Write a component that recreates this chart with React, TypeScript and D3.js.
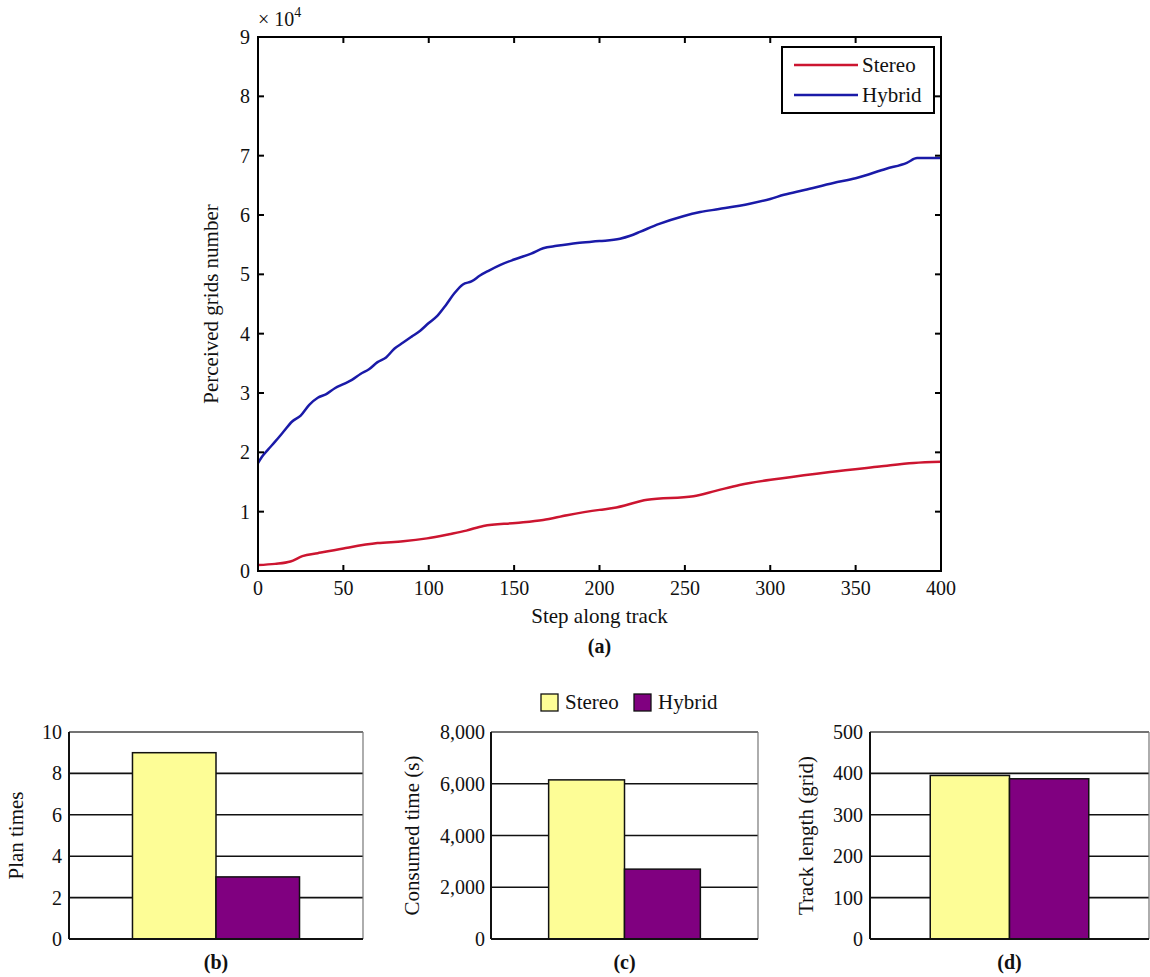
import React from 'react';
import * as d3 from 'd3';

const FONT = 'Liberation Serif';

// (a) perceived grids number (x 10^4) against step along track
const stereoCurve: [number, number][] = [
  [0, 0.1], [10, 0.12], [19, 0.16], [26, 0.25], [35, 0.3], [50, 0.38], [70, 0.47],
  [85, 0.5], [99, 0.55], [112, 0.62], [122, 0.68], [132, 0.76], [151, 0.81],
  [167, 0.86], [181, 0.94], [200, 1.03], [208, 1.06], [228, 1.2], [255, 1.26],
  [268, 1.35], [282, 1.45], [306, 1.56], [335, 1.67], [364, 1.76], [384, 1.82], [400, 1.84],
];
const hybridCurve: [number, number][] = [
  [0, 1.82], [3, 1.95], [6, 2.05], [10, 2.18], [15, 2.35], [20, 2.52], [25, 2.62],
  [30, 2.8], [35, 2.92], [40, 2.98], [45, 3.08], [50, 3.15], [55, 3.22], [60, 3.32],
  [65, 3.4], [70, 3.52], [75, 3.6], [80, 3.75], [85, 3.85], [90, 3.95], [95, 4.05],
  [100, 4.18], [105, 4.3], [110, 4.48], [115, 4.68], [120, 4.83], [125, 4.88],
  [130, 4.98], [135, 5.06], [142, 5.16], [150, 5.25], [160, 5.35], [167, 5.44],
  [175, 5.48], [187, 5.53], [200, 5.56], [212, 5.6], [218, 5.65], [224, 5.72],
  [235, 5.85], [249, 5.98], [259, 6.05], [270, 6.1], [288, 6.19], [300, 6.27],
  [308, 6.34], [320, 6.42], [337, 6.54], [350, 6.62], [368, 6.78], [380, 6.88],
  [386, 6.96], [400, 6.96],
];
const stepTicks = [0, 50, 100, 150, 200, 250, 300, 350, 400];
const gridTicks = [0, 1, 2, 3, 4, 5, 6, 7, 8, 9];

// (b)-(d) bar panels
const seriesNames = ['Stereo', 'Hybrid'];
const planTimes = [9, 3];
const consumedTime = [6150, 2700];
const trackLength = [395, 387];
const planTicks = [0, 2, 4, 6, 8, 10];
const consumedTicks = [0, 2000, 4000, 6000, 8000];
const trackTicks = [0, 100, 200, 300, 400, 500];

const lineColors = ['#cc1530', '#1a1aa8'];
const barColors = ['#fdfd96', '#800080'];
const INK = '#111';

// every label goes through this so the serif face is set on the element itself
function T(props: any) {
  const { children, ...rest } = props;
  return <text fontFamily={FONT} fill={INK} {...rest}>{children}</text>;
}

function LinePanel() {
  const x = d3.scaleLinear().domain([0, 400]).range([258, 941]);
  const y = d3.scaleLinear().domain([0, 9]).range([571, 37]);
  const line = d3.line<[number, number]>().x(d => x(d[0])).y(d => y(d[1])).curve(d3.curveMonotoneX);
  const [x0, x1] = x.range();
  const [y0, y1] = y.range();
  const tk = 6;

  return (
    <g>
      {[stereoCurve, hybridCurve].map((c, i) => (
        <path key={i} d={line(c) || ''} fill="none" stroke={lineColors[i]} strokeWidth={2.5} />
      ))}
      <rect x={x0} y={y1} width={x1 - x0} height={y0 - y1} fill="none" stroke="#000" strokeWidth={2} />
      {stepTicks.map(t => (
        <g key={'x' + t}>
          <line x1={x(t)} x2={x(t)} y1={y0} y2={y0 - tk} stroke="#000" strokeWidth={2} />
          <line x1={x(t)} x2={x(t)} y1={y1} y2={y1 + tk} stroke="#000" strokeWidth={2} />
          <T x={x(t)} y={y0 + 24} textAnchor="middle" fontSize={20}>{t}</T>
        </g>
      ))}
      {gridTicks.map(t => (
        <g key={'y' + t}>
          <line x1={x0} x2={x0 + tk} y1={y(t)} y2={y(t)} stroke="#000" strokeWidth={2} />
          <line x1={x1} x2={x1 - tk} y1={y(t)} y2={y(t)} stroke="#000" strokeWidth={2} />
          <T x={x0 - 8} y={y(t) + 7} textAnchor="end" fontSize={20}>{t}</T>
        </g>
      ))}
      <rect x={782} y={47} width={152} height={66} fill="#fff" stroke="#000" strokeWidth={2} />
      {seriesNames.map((name, i) => {
        const ly = 65 + i * 30;
        return (
          <g key={name}>
            <line x1={794} x2={858} y1={ly} y2={ly} stroke={lineColors[i]} strokeWidth={2.5} />
            <T x={862} y={ly + 7} fontSize={21}>{name}</T>
          </g>
        );
      })}
      <T x={258} y={26} fontSize={20}>
        {'\u00d7 10'}
        <tspan dy={-9} fontSize={14}>4</tspan>
      </T>
      <T transform={`translate(218,${(y0 + y1) / 2}) rotate(-90)`} textAnchor="middle" fontSize={21}>
        Perceived grids number
      </T>
      <T x={(x0 + x1) / 2} y={623} textAnchor="middle" fontSize={21}>Step along track</T>
      <T x={(x0 + x1) / 2} y={653} textAnchor="middle" fontSize={20} fontWeight="bold">(a)</T>
    </g>
  );
}

type PanelProps = {
  left: number; right: number; values: number[]; ticks: number[];
  fmt: (n: number) => string; label: string; labelX: number; pad: number; caption: string;
};

const TOP = 732;
const BOTTOM = 939;

function BarPanel(p: PanelProps) {
  const yb = d3.scaleLinear().domain([0, p.ticks[p.ticks.length - 1]]).range([BOTTOM, TOP]);
  const xb = d3.scaleBand().domain(seriesNames).range([p.left, p.right]).paddingInner(0).paddingOuter(0.76);
  return (
    <g>
      {p.ticks.slice(1, -1).map(t => (
        <line key={t} x1={p.left} x2={p.right} y1={yb(t)} y2={yb(t)} stroke={INK} strokeWidth={1.6} />
      ))}
      <line x1={p.left} x2={p.right} y1={TOP} y2={TOP} stroke="#444" strokeWidth={1.3} />
      <line x1={p.right} x2={p.right} y1={TOP} y2={BOTTOM} stroke="#777" strokeWidth={1.2} />
      {p.values.map((v, i) => (
        <rect key={i} x={xb(seriesNames[i])} y={yb(v)} width={xb.bandwidth()} height={BOTTOM - yb(v)}
          fill={barColors[i]} stroke={INK} strokeWidth={1.5} />
      ))}
      <line x1={p.left} x2={p.right} y1={BOTTOM} y2={BOTTOM} stroke={INK} strokeWidth={2} />
      <line x1={p.left} x2={p.left} y1={TOP} y2={BOTTOM} stroke={INK} strokeWidth={2} />
      {p.ticks.map(t => (
        <T key={t} x={p.left - p.pad} y={yb(t) + 7} textAnchor="end" fontSize={20}>{p.fmt(t)}</T>
      ))}
      <T transform={`translate(${p.labelX},${(TOP + BOTTOM) / 2}) rotate(-90)`} textAnchor="middle" fontSize={21}>
        {p.label}
      </T>
      <T x={(p.left + p.right) / 2} y={969} textAnchor="middle" fontSize={20} fontWeight="bold">{p.caption}</T>
    </g>
  );
}

export default function App() {
  const legX = [541, 634];
  return (
    <div style={{ position: 'absolute', left: 0, top: 0 }}>
      <svg width={1150} height={977} style={{ display: 'block', background: '#fff' }}>
        <LinePanel />
        <BarPanel left={69} right={363} values={planTimes} ticks={planTicks} fmt={d3.format('d')}
          label="Plan times" labelX={23} pad={7} caption="(b)" />
        <BarPanel left={491} right={758} values={consumedTime} ticks={consumedTicks} fmt={d3.format(',')}
          label="Consumed time (s)" labelX={419} pad={6} caption="(c)" />
        <BarPanel left={870} right={1149} values={trackLength} ticks={trackTicks} fmt={d3.format('d')}
          label="Track length (grid)" labelX={813} pad={7} caption="(d)" />
        {seriesNames.map((name, i) => (
          <g key={name}>
            <rect x={legX[i]} y={694} width={17} height={17} fill={barColors[i]} stroke={INK} strokeWidth={1.3} />
            <T x={legX[i] + 24} y={709} fontSize={21}>{name}</T>
          </g>
        ))}
      </svg>
    </div>
  );
}
